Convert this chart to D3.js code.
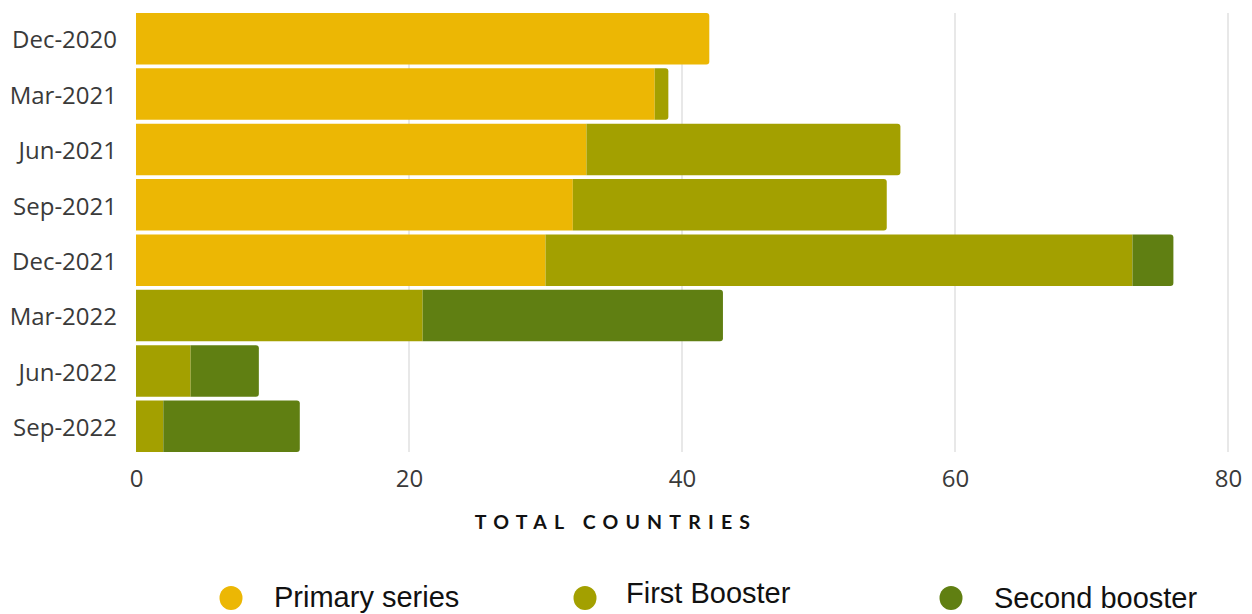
<!DOCTYPE html>
<html><head><meta charset="utf-8">
<script src="https://cdn.jsdelivr.net/npm/d3@7"></script>
<style>body{margin:0;background:#fff}svg{display:block}</style>
</head><body>
<svg id="c" width="1252" height="614"></svg>
<script>
const categories = ["Dec-2020","Mar-2021","Jun-2021","Sep-2021","Dec-2021","Mar-2022","Jun-2022","Sep-2022"];
const primarySeries = [42,38,33,32,30,0,0,0];
const firstBooster = [0,1,23,23,43,21,4,2];
const secondBooster = [0,0,0,0,3,22,5,10];
const seriesNames = ["Primary series","First Booster","Second booster"];
const seriesColors = ["#ECB704","#A3A000","#607F12"];
const xTicks = [0,20,40,60,80];

const svg = d3.select("#c");
const x = d3.scaleLinear().domain([0,80]).range([136,1228]);
const y = d3.scaleBand().domain(categories).range([13,452]).paddingInner(0.07).paddingOuter(0);

// grid
svg.append("g").selectAll("line").data(xTicks.filter(d=>d>0)).join("line")
  .attr("x1",d=>x(d)).attr("x2",d=>x(d)).attr("y1",13).attr("y2",452)
  .attr("stroke","#d9d9d9").attr("stroke-width",1.2);

const rows = categories.map((c,i)=>({cat:c, vals:[primarySeries[i],firstBooster[i],secondBooster[i]]}));
const r = 3;
rows.forEach(row=>{
  let acc = 0;
  const lastIdx = row.vals.reduce((m,v,i)=>v>0?i:m,-1);
  row.vals.forEach((v,i)=>{
    if(v<=0) return;
    const x0 = x(acc), x1 = x(acc+v), y0 = y(row.cat), h = y.bandwidth();
    acc += v;
    let p;
    if(i===lastIdx){
      p = `M${x0},${y0}H${x1-r}Q${x1},${y0} ${x1},${y0+r}V${y0+h-r}Q${x1},${y0+h} ${x1-r},${y0+h}H${x0}Z`;
    } else {
      p = `M${x0},${y0}H${x1}V${y0+h}H${x0}Z`;
    }
    svg.append("path").attr("d",p).attr("fill",seriesColors[i]);
  });
});

// y axis labels
const yAxis = d3.axisLeft(y).tickSize(0).tickPadding(19);
const ya = svg.append("g").attr("transform","translate(136,2)").call(yAxis);
ya.select(".domain").remove();
ya.selectAll("text").attr("font-family","'Open Sans'").attr("font-size",24).attr("fill","#3a3a3a");

// x axis labels
const xAxis = d3.axisBottom(x).tickValues(xTicks).tickSize(0).tickPadding(18);
const xa = svg.append("g").attr("transform","translate(0,452)").call(xAxis);
xa.select(".domain").remove();
xa.selectAll("text").attr("font-family","'Open Sans'").attr("font-size",24).attr("fill","#3a3a3a");

// axis title
svg.append("text").attr("x",616).attr("y",529).attr("text-anchor","middle")
  .attr("font-family","Lato").attr("font-weight","bold").attr("font-size",19.5)
  .attr("letter-spacing","7.2px").attr("fill","#111").text("TOTAL COUNTRIES");

// legend
const legX = [231,585,951];
const legTX = [274,626,994];
const legTY = [607,603,608];
seriesNames.forEach((n,i)=>{
  svg.append("ellipse").attr("cx",legX[i]).attr("cy",598).attr("rx",11.5).attr("ry",12).attr("fill",seriesColors[i]);
  svg.append("text").attr("x",legTX[i]).attr("y",legTY[i]).attr("font-family","'Liberation Sans'")
    .attr("font-size",29).attr("fill","#111").text(n);
});
</script>
</body></html>
